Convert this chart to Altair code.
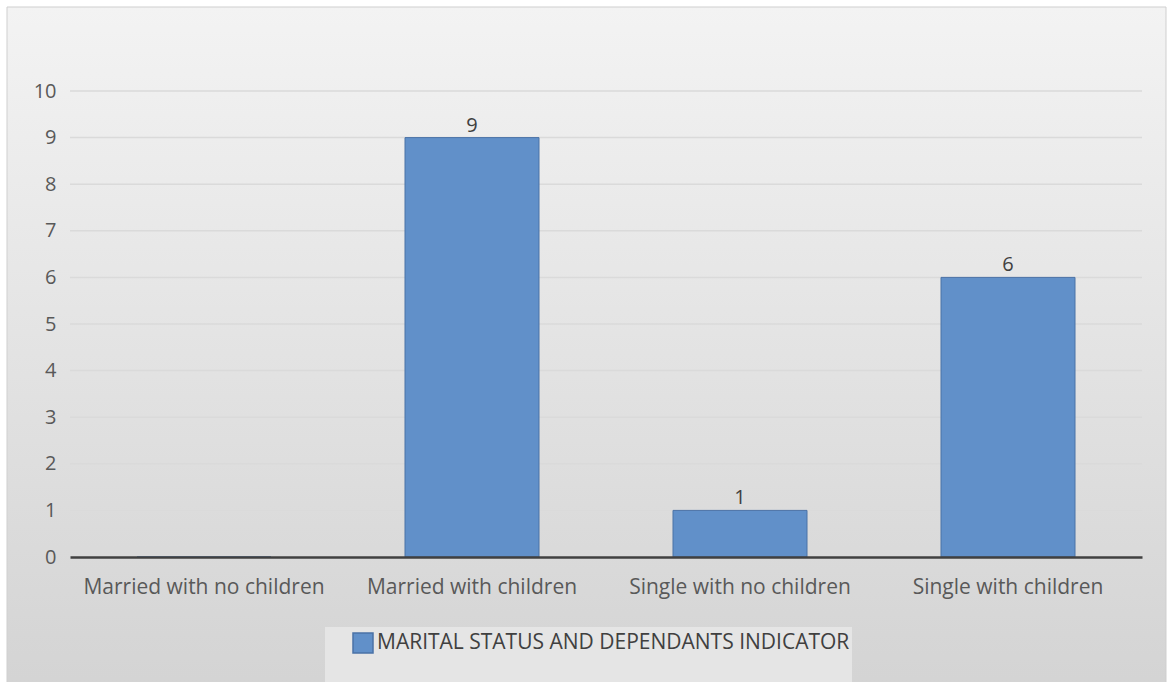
import altair as alt
import pandas as pd

categories = ["Married with no children", "Married with children", "Single with no children", "Single with children"]
values = [0, 9, 1, 6]
series_name = "MARITAL STATUS AND DEPENDANTS INDICATOR"
y_ticks = list(range(0, 11))

df = pd.DataFrame({"cat": categories, "val": values, "series": [series_name] * len(categories)})
grid_df = pd.DataFrame({"g": y_ticks[1:]})

W, H = 1072, 466
PL, PT = 70, 91
FONT = "Open Sans"

bg = alt.Chart(pd.DataFrame({"a": [0]})).mark_rect(
    color=alt.Gradient(
        gradient="linear",
        stops=[alt.GradientStop(color="#f3f3f3", offset=0), alt.GradientStop(color="#d3d3d3", offset=1)],
        x1=0, x2=0, y1=0, y2=1,
    ),
    stroke="#cfcfcf",
    strokeWidth=1,
).encode(
    x=alt.value(7 - PL), x2=alt.value(1166 - PL), y=alt.value(7 - PT), y2=alt.value(700 - PT)
)

legend_box = alt.Chart(pd.DataFrame({"a": [0]})).mark_rect(color="#e5e5e5").encode(
    x=alt.value(325 - PL), x2=alt.value(852 - PL), y=alt.value(627 - PT), y2=alt.value(700 - PT)
)

grid = alt.Chart(grid_df).mark_rule(color="#dadada", strokeWidth=1.5).encode(
    y=alt.Y("g:Q", scale=alt.Scale(domain=[0, 10], nice=False)),
    x=alt.value(0), x2=alt.value(W),
)

base = alt.Chart(df)

bars = base.mark_bar(stroke="#4a72a6", strokeWidth=1).encode(
    x=alt.X("cat:N", sort=categories, title=None,
            scale=alt.Scale(paddingInner=0.5, paddingOuter=0.25),
            axis=alt.Axis(labelAngle=0, labelFontSize=21, labelColor="#595959", labelFont=FONT,
                          domainColor="#404040", domainWidth=2.5, ticks=False, grid=False,
                          labelPadding=19, labelLimit=400, zindex=1)),
    y=alt.Y("val:Q", title=None, scale=alt.Scale(domain=[0, 10], nice=False),
            axis=alt.Axis(values=y_ticks, labelFontSize=20, labelColor="#595959",
                          labelFont=FONT, domain=False, ticks=False, grid=False,
                          labelPadding=14, zindex=1)),
    color=alt.Color("series:N", scale=alt.Scale(range=["#6190c9"]),
                    legend=alt.Legend(title=None, orient="none", legendX=352 - PL, legendY=632 - PT,
                                      direction="horizontal",
                                      symbolType="square", symbolSize=400, symbolStrokeColor="#4a72a6",
                                      symbolStrokeWidth=1.5,
                                      labelFontSize=21, labelFont=FONT, labelColor="#404040",
                                      padding=0, labelOffset=3, labelLimit=700)),
)

labels = base.transform_filter("datum.val > 0").mark_text(
    dy=-12, fontSize=20, font=FONT, color="#404040"
).encode(
    x=alt.X("cat:N", sort=categories),
    y="val:Q",
    text="val:Q",
)

chart = alt.layer(bg, legend_box, grid, bars, labels).properties(
    width=W, height=H,
    padding={"left": PL, "top": PT, "right": 1171 - PL - W, "bottom": 682 - PT - H},
    autosize=alt.AutoSizeParams(type="none"),
    background="white",
).configure_view(stroke=None)

chart.save("out.html", embed_options={"renderer": "svg", "actions": False})
